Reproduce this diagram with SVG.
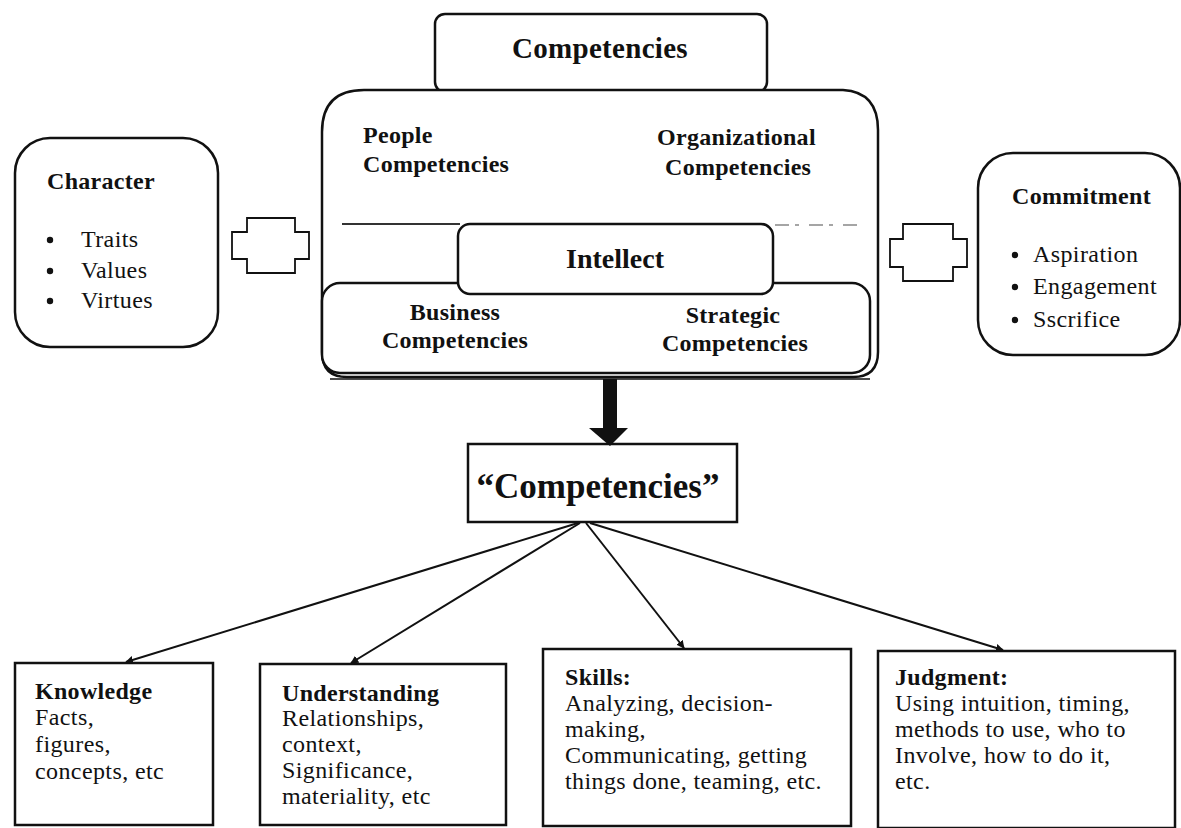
<svg xmlns="http://www.w3.org/2000/svg" width="1181" height="828" viewBox="0 0 1181 828">
<defs>
<style>
.box{fill:#fff;stroke:#111;stroke-width:2.5}
.thin{fill:#fff;stroke:#111;stroke-width:1.8}
.t{font-family:"Liberation Serif","Times New Roman",serif;fill:#111}
.b{font-weight:bold}
.h{font-size:24px;letter-spacing:0.3px;font-weight:bold}
.s{font-size:24px;letter-spacing:0.4px}
.conn{stroke:#111;stroke-width:2;fill:none}
</style>
<marker id="ah" viewBox="0 0 10 10" refX="9" refY="5" markerWidth="8" markerHeight="8" orient="auto" markerUnits="userSpaceOnUse">
<path d="M0,0 L10,5 L0,10 z" fill="#111"/>
</marker>
</defs>
<rect width="1181" height="828" fill="#fff"/>

<g id="competencies-top">
<rect class="box" x="435" y="14" width="332" height="78" rx="10"/>
<text class="t b" x="600" y="58" font-size="29" letter-spacing="0.3" text-anchor="middle">Competencies</text>
</g>

<g id="competencies-frame">
<path class="box" d="M322,132 Q322,90 364,90 L843,90 Q878,92 878,130 L878,352 Q878,377 853,377 L347,377 Q322,377 322,352 Z"/>
<line x1="330" y1="379" x2="870" y2="379" stroke="#111" stroke-width="1.5"/>
<text class="t h" x="363" y="143">People</text>
<text class="t h" x="363" y="172">Competencies</text>
<text class="t h" x="657" y="145">Organizational</text>
<text class="t h" x="665" y="175">Competencies</text>
<line x1="342" y1="224" x2="460" y2="224" stroke="#333" stroke-width="2"/>
<line x1="775" y1="225" x2="862" y2="225" stroke="#888" stroke-width="1.5" stroke-dasharray="14 6 4 10"/>
</g>

<g id="business-strategic">
<rect class="box" x="322" y="283" width="548" height="90" rx="18"/>
<text class="t h" x="455" y="320" text-anchor="middle">Business</text>
<text class="t h" x="455" y="348" text-anchor="middle">Competencies</text>
<text class="t h" x="733" y="323" text-anchor="middle">Strategic</text>
<text class="t h" x="735" y="351" text-anchor="middle">Competencies</text>
</g>

<g id="intellect">
<rect class="box" x="458" y="224" width="315" height="70" rx="12"/>
<text class="t b" x="615" y="268" font-size="28" text-anchor="middle">Intellect</text>
</g>

<g id="character">
<rect class="box" x="15" y="138" width="203" height="209" rx="35"/>
<text class="t h" x="47" y="189">Character</text>
<circle cx="50" cy="240" r="3.2" fill="#111"/>
<circle cx="50" cy="271" r="3.2" fill="#111"/>
<circle cx="50" cy="301" r="3.2" fill="#111"/>
<text class="t s" x="81" y="247">Traits</text>
<text class="t s" x="81" y="278">Values</text>
<text class="t s" x="81" y="308">Virtues</text>
</g>

<g id="commitment">
<rect class="box" x="978" y="153" width="202" height="202" rx="35"/>
<text class="t h" x="1012" y="204">Commitment</text>
<circle cx="1015" cy="255" r="3.2" fill="#111"/>
<circle cx="1015" cy="287" r="3.2" fill="#111"/>
<circle cx="1015" cy="320" r="3.2" fill="#111"/>
<text class="t s" x="1033" y="262">Aspiration</text>
<text class="t s" x="1033" y="294">Engagement</text>
<text class="t s" x="1033" y="327">Sscrifice</text>
</g>

<g id="competencies-quoted">
<rect class="box" x="468" y="444" width="269" height="78" stroke-width="3.5"/>
<text class="t b" x="598" y="498" font-size="35" text-anchor="middle">“Competencies”</text>
</g>

<g id="knowledge">
<rect class="box" x="15" y="663" width="198" height="162"/>
<text class="t h" x="35" y="699">Knowledge</text>
<text class="t s" x="35" y="725">Facts,</text>
<text class="t s" x="35" y="752">figures,</text>
<text class="t s" x="35" y="779">concepts, etc</text>
</g>

<g id="understanding">
<rect class="box" x="260" y="664" width="246" height="161"/>
<text class="t h" x="282" y="701">Understanding</text>
<text class="t s" x="282" y="726">Relationships,</text>
<text class="t s" x="282" y="752">context,</text>
<text class="t s" x="282" y="778">Significance,</text>
<text class="t s" x="282" y="804">materiality, etc</text>
</g>

<g id="skills">
<rect class="box" x="543" y="649" width="308" height="177"/>
<text class="t h" x="565" y="685">Skills:</text>
<text class="t s" x="565" y="711">Analyzing, decision-</text>
<text class="t s" x="565" y="737">making,</text>
<text class="t s" x="565" y="763">Communicating, getting</text>
<text class="t s" x="565" y="789">things done, teaming, etc.</text>
</g>

<g id="judgment">
<rect class="box" x="878" y="651" width="297" height="177"/>
<text class="t h" x="895" y="685">Judgment:</text>
<text class="t s" x="895" y="711">Using intuition, timing,</text>
<text class="t s" x="895" y="737">methods to use, who to</text>
<text class="t s" x="895" y="763">Involve, how to do it,</text>
<text class="t s" x="895" y="789">etc.</text>
</g>

<g id="connectors">
<path class="thin" d="M247,218 L295,218 L295,232 L309,232 L309,259 L295,259 L295,273 L247,273 L247,259 L232,259 L232,232 L247,232 Z"/>
<path class="thin" d="M903,224 L953,224 L953,239 L967,239 L967,267 L953,267 L953,281 L903,281 L903,267 L890,267 L890,239 L903,239 Z"/>
<path d="M603,379 L617,379 L617,428 L628,428 L610,446 L589,428 L603,428 Z" fill="#111"/>
<line class="conn" x1="578" y1="523" x2="126" y2="662" marker-end="url(#ah)"/>
<line class="conn" x1="580" y1="523" x2="351" y2="663" marker-end="url(#ah)"/>
<line class="conn" x1="586" y1="523" x2="684" y2="648" marker-end="url(#ah)"/>
<line class="conn" x1="590" y1="523" x2="1003" y2="650" marker-end="url(#ah)"/>
</g>
</svg>
